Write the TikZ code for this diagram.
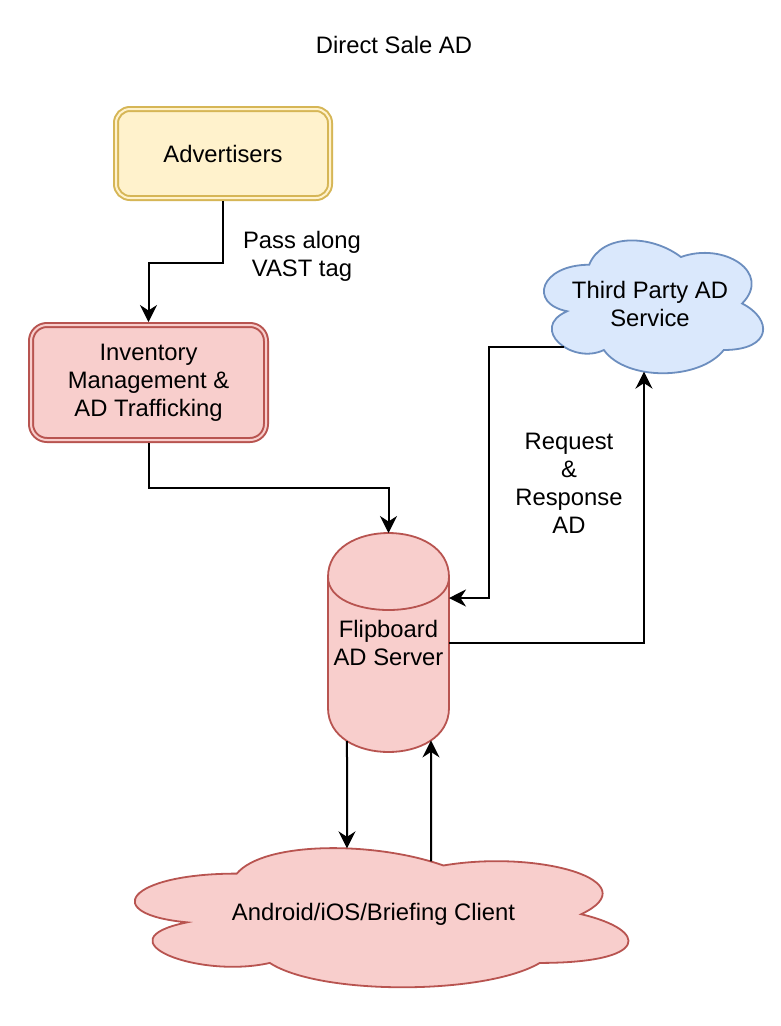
\documentclass[tikz,border=0pt]{standalone}
\usepackage{fontspec}
\setmainfont{Liberation Sans}
\usetikzlibrary{arrows.meta,intersections}
\definecolor{yfill}{HTML}{FFF2CC}\definecolor{ystroke}{HTML}{D6B656}
\definecolor{rfill}{HTML}{F8CECC}\definecolor{rstroke}{HTML}{B85450}
\definecolor{bfill}{HTML}{DAE8FC}\definecolor{bstroke}{HTML}{6C8EBF}
\newcommand\mycloud[6]{%
  \begin{scope}[shift={(#1,#2)},xscale=#3,yscale=#4]
    \path[name path global=#5,#6] (0.25,0.25) .. controls (0.05,0.25) and (0,0.5) .. (0.16,0.55)
      .. controls (0,0.66) and (0.18,0.9) .. (0.31,0.8)
      .. controls (0.4,1) and (0.7,1) .. (0.8,0.8)
      .. controls (1,0.8) and (1,0.6) .. (0.875,0.5)
      .. controls (1,0.3) and (0.8,0.1) .. (0.625,0.2)
      .. controls (0.5,0.05) and (0.3,0.05) .. (0.25,0.25) -- cycle;
  \end{scope}}
\begin{document}
\begin{tikzpicture}[x=1pt,y=-1pt,
  lbl/.style={font=\fontsize{23.8pt}{28pt}\selectfont, align=center, inner sep=0pt},
  dbox/.style={lbl, line width=2pt, double distance=2pt, outer sep=3pt},
  conn/.style={line width=2pt, -{Stealth[length=17pt,width=17pt,inset=5.5pt]}},
  shapeline/.style={line width=1.8pt}]
\path[fill=white,use as bounding box] (0,0) rectangle (780,1026);

\node[lbl] (title) at (394,45) {Direct Sale AD};

\node[dbox, draw=ystroke, fill=yfill, double=yfill, rounded corners=14pt,
  minimum width=214pt, minimum height=89pt] (adv) at (223,153.5) {Advertisers};
\node[dbox, draw=rstroke, fill=rfill, double=rfill, rounded corners=16pt,
  minimum width=235pt, minimum height=115pt] (inv) at (148.5,382.5) {Inventory\\Management \&\\AD Trafficking};

% cylinder
\begin{scope}[shift={(328,533)}]
  \path[name path global=cyl, draw=rstroke, fill=rfill, shapeline] (0,44) .. controls (0,-14.67) and (121,-14.67) .. (121,44)
    -- (121,175) .. controls (121,233.67) and (0,233.67) .. (0,175) -- cycle;
  \draw[rstroke, shapeline] (0,44) .. controls (0,88) and (121,88) .. (121,44);
\end{scope}
\node[lbl] (srv) at (388.5,643) {Flipboard\\AD Server};
\coordinate (srvtop) at (388.5,533);
\coordinate (srvin) at (449,598);
\coordinate (srvout) at (449,643);

% clouds
\mycloud{528}{226}{244.7}{155}{tpc}{draw=bstroke, fill=bfill, shapeline}
\node[lbl] (tp) at (650,303.5) {Third Party AD\\Service};
\mycloud{99}{833}{551}{162.4}{clc}{draw=rstroke, fill=rfill, shapeline}
\node[lbl] (cli) at (373.5,914) {Android/iOS/Briefing Client};

% attach points
\path[name path=vtp] (644,300) -- (644,450);
\path[name intersections={of=tpc and vtp}] coordinate (tpbot) at (intersection-1);
\path[name path=htp] (480,347) -- (660,347);
\path[name intersections={of=tpc and htp, sort by=htp}] coordinate (tpleft) at (intersection-1);
\path[name path=vcA] (347,700) -- (347,1000);
\path[name intersections={of=cyl and vcA, sort by=vcA}] coordinate (srvbl) at (intersection-1);
\path[name intersections={of=clc and vcA, sort by=vcA}] coordinate (clA) at (intersection-1);
\path[name path=vcB] (431,700) -- (431,1000);
\path[name intersections={of=cyl and vcB, sort by=vcB}] coordinate (srvbr) at (intersection-1);
\path[name intersections={of=clc and vcB, sort by=vcB}] coordinate (clB) at (intersection-1);

% connectors
\draw[conn] (adv.south) -- ++(0,62) -| (inv.north);
\draw[conn] (inv.south) -- ++(0,45) -| (srvtop);
\draw[conn] (tpleft) -| (489,598) -- (srvin);
\draw[conn] (srvout) -| (tpbot);
\draw[conn] (srvbl) -- (clA);
\draw[conn] (clB) -- (srvbr);

\node[lbl] (pass) at (302,256) {Pass along\\VAST tag};
\node[lbl] (req) at (569,483) {Request\\\&\\Response\\AD};
\end{tikzpicture}
\end{document}
